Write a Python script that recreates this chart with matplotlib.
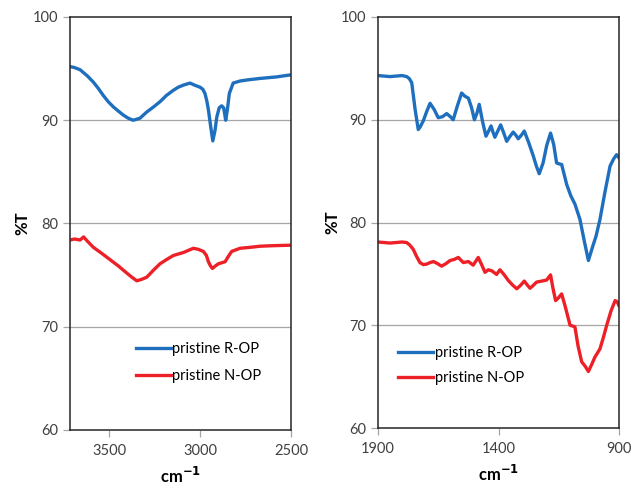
import numpy as np
import matplotlib.pyplot as plt

plt.rcParams['font.family'] = ['Lato', 'DejaVu Sans']

# ---- data (wavenumber, %T) ----
wn_left_r = [3715, 3690, 3660, 3620, 3587, 3560, 3532, 3505, 3477, 3450, 3422, 3395, 3368,
             3330, 3293, 3255, 3220, 3185, 3147, 3120, 3092, 3055, 3030, 3000, 2985, 2973,
             2962, 2954, 2940, 2930, 2918, 2908, 2895, 2881, 2870, 2859, 2850, 2839, 2818,
             2780, 2743, 2670, 2578, 2540, 2500]
t_left_r = [95.2, 95.1, 94.9, 94.3, 93.7, 93.1, 92.4, 91.8, 91.3, 90.9, 90.5, 90.2, 90.0,
            90.2, 90.8, 91.3, 91.8, 92.4, 92.9, 93.2, 93.4, 93.6, 93.4, 93.2, 93.0, 92.6,
            91.8, 91.0, 89.2, 88.0, 89.0, 90.3, 91.2, 91.4, 91.2, 90.0, 91.0, 92.6, 93.6,
            93.8, 93.9, 94.05, 94.2, 94.3, 94.4]

wn_left_n = [3715, 3690, 3660, 3640, 3620, 3587, 3540, 3495, 3450, 3403, 3375, 3348, 3320,
             3293, 3255, 3220, 3185, 3147, 3090, 3037, 3010, 2982, 2965, 2954, 2943, 2932,
             2915, 2899, 2880, 2862, 2845, 2826, 2780, 2720, 2670, 2600, 2500]
t_left_n = [78.4, 78.5, 78.4, 78.7, 78.3, 77.7, 77.1, 76.5, 75.9, 75.2, 74.8, 74.45, 74.6,
            74.8, 75.5, 76.1, 76.5, 76.9, 77.2, 77.6, 77.5, 77.3, 76.9, 76.3, 75.9, 75.65,
            75.9, 76.1, 76.2, 76.3, 76.8, 77.3, 77.6, 77.7, 77.8, 77.85, 77.9]

wn_right_r = [1900, 1850, 1800, 1781, 1770, 1760, 1746, 1733, 1725, 1712, 1698, 1684, 1667,
              1650, 1632, 1615, 1600, 1588, 1570, 1553, 1540, 1525, 1512, 1500, 1490, 1480,
              1466, 1452, 1441, 1431, 1423, 1415, 1403, 1391, 1378, 1366, 1352, 1339, 1328,
              1318, 1305, 1293, 1275, 1256, 1243, 1231, 1215, 1200, 1184, 1171, 1159, 1148,
              1138, 1117, 1100, 1083, 1062, 1045, 1027, 1010, 995, 979, 958, 937, 922, 910,
              900]
t_right_r = [94.3, 94.2, 94.3, 94.2, 94.0, 93.6, 91.0, 89.05, 89.3, 89.9, 90.8, 91.6, 91.0,
             90.2, 90.3, 90.6, 90.3, 90.0, 91.4, 92.6, 92.3, 92.1, 91.2, 90.0, 90.6, 91.5,
             89.8, 88.4, 88.9, 89.4, 88.8, 88.3, 88.9, 89.5, 88.7, 87.9, 88.4, 88.8, 88.5,
             88.15, 88.5, 88.9, 87.8, 86.5, 85.5, 84.75, 85.8, 87.5, 88.7, 87.6, 85.8, 85.7,
             85.65, 83.7, 82.6, 81.8, 80.3, 78.3, 76.3, 77.6, 78.7, 80.3, 83.0, 85.5, 86.2,
             86.6, 86.3]

wn_right_n = [1900, 1850, 1800, 1781, 1768, 1754, 1740, 1726, 1712, 1698, 1684, 1670, 1653,
              1636, 1618, 1601, 1584, 1567, 1546, 1525, 1505, 1484, 1470, 1456, 1442, 1428,
              1408, 1394, 1376, 1359, 1341, 1324, 1308, 1293, 1280, 1269, 1255, 1242, 1220,
              1200, 1184, 1174, 1163, 1150, 1138, 1124, 1103, 1083, 1070, 1055, 1040, 1027,
              1013, 1000, 979, 965, 951, 933, 916, 908, 900]
t_right_n = [78.1, 78.0, 78.1, 78.05, 77.8, 77.4, 76.7, 76.1, 75.9, 75.95, 76.1, 76.2, 76.0,
             75.75, 76.0, 76.3, 76.4, 76.6, 76.1, 76.2, 75.85, 76.6, 75.9, 75.15, 75.4, 75.3,
             74.95, 75.4, 74.9, 74.35, 73.9, 73.55, 73.9, 74.3, 73.9, 73.6, 73.9, 74.2, 74.3,
             74.4, 74.9, 73.6, 72.4, 72.7, 73.05, 71.9, 70.0, 69.85, 68.0, 66.45, 66.0, 65.5,
             66.2, 66.9, 67.7, 68.8, 70.0, 71.4, 72.4, 72.3, 71.9]

labels = ['pristine R-OP', 'pristine N-OP']
blue = '#1f6fbf'
red = '#ee2027'
tick_col = '#404040'

fig = plt.figure(figsize=(6.41, 4.88), dpi=100)
ax1 = fig.add_axes([70 / 641, 1 - 430 / 488, 221 / 641, 413 / 488])
ax2 = fig.add_axes([378 / 641, 1 - 428 / 488, 241 / 641, 411 / 488])

panels = [
    (ax1, wn_left_r, t_left_r, wn_left_n, t_left_n, (3715, 2500), [3500, 3000, 2500]),
    (ax2, wn_right_r, t_right_r, wn_right_n, t_right_n, (1900, 900), [1900, 1400, 900]),
]

for ax, xr, yr, xn, yn, xlim, xt in panels:
    for y in [70, 80, 90]:
        ax.axhline(y, color='#a6a6a6', lw=0.9, zorder=0)
    ax.plot(xr, yr, color=blue, lw=2.4, label=labels[0], solid_joinstyle='round')
    ax.plot(xn, yn, color=red, lw=2.4, label=labels[1], solid_joinstyle='round')
    ax.set_xlim(*xlim)
    ax.set_ylim(60, 100)
    ax.set_xticks(xt)
    ax.set_yticks([60, 70, 80, 90, 100])
    ax.tick_params(axis='both', colors='#a6a6a6', labelcolor=tick_col, labelsize=10.5,
                   length=5, width=0.9, direction='out')
    ax.tick_params(axis='x', pad=5)
    for s in ax.spines.values():
        s.set_color('#262626')
        s.set_linewidth(1.1)
    ax.set_ylabel('%T', fontsize=12, fontweight='bold', labelpad=2)
    ax.set_xlabel('cm$^{\\mathbf{-1}}$', fontsize=12, fontweight='bold', labelpad=6)

ax2.yaxis.labelpad = 0

ax1.legend(loc='lower left', bbox_to_anchor=(0.27, 0.1), frameon=False, fontsize=10.5,
           handlelength=2.4, handletextpad=0.1, labelspacing=0.85, borderaxespad=0)
ax2.legend(loc='lower left', bbox_to_anchor=(0.06, 0.09), frameon=False, fontsize=10.5,
           handlelength=2.4, handletextpad=0.1, labelspacing=0.75, borderaxespad=0)

plt.savefig('out.png', dpi=100)
